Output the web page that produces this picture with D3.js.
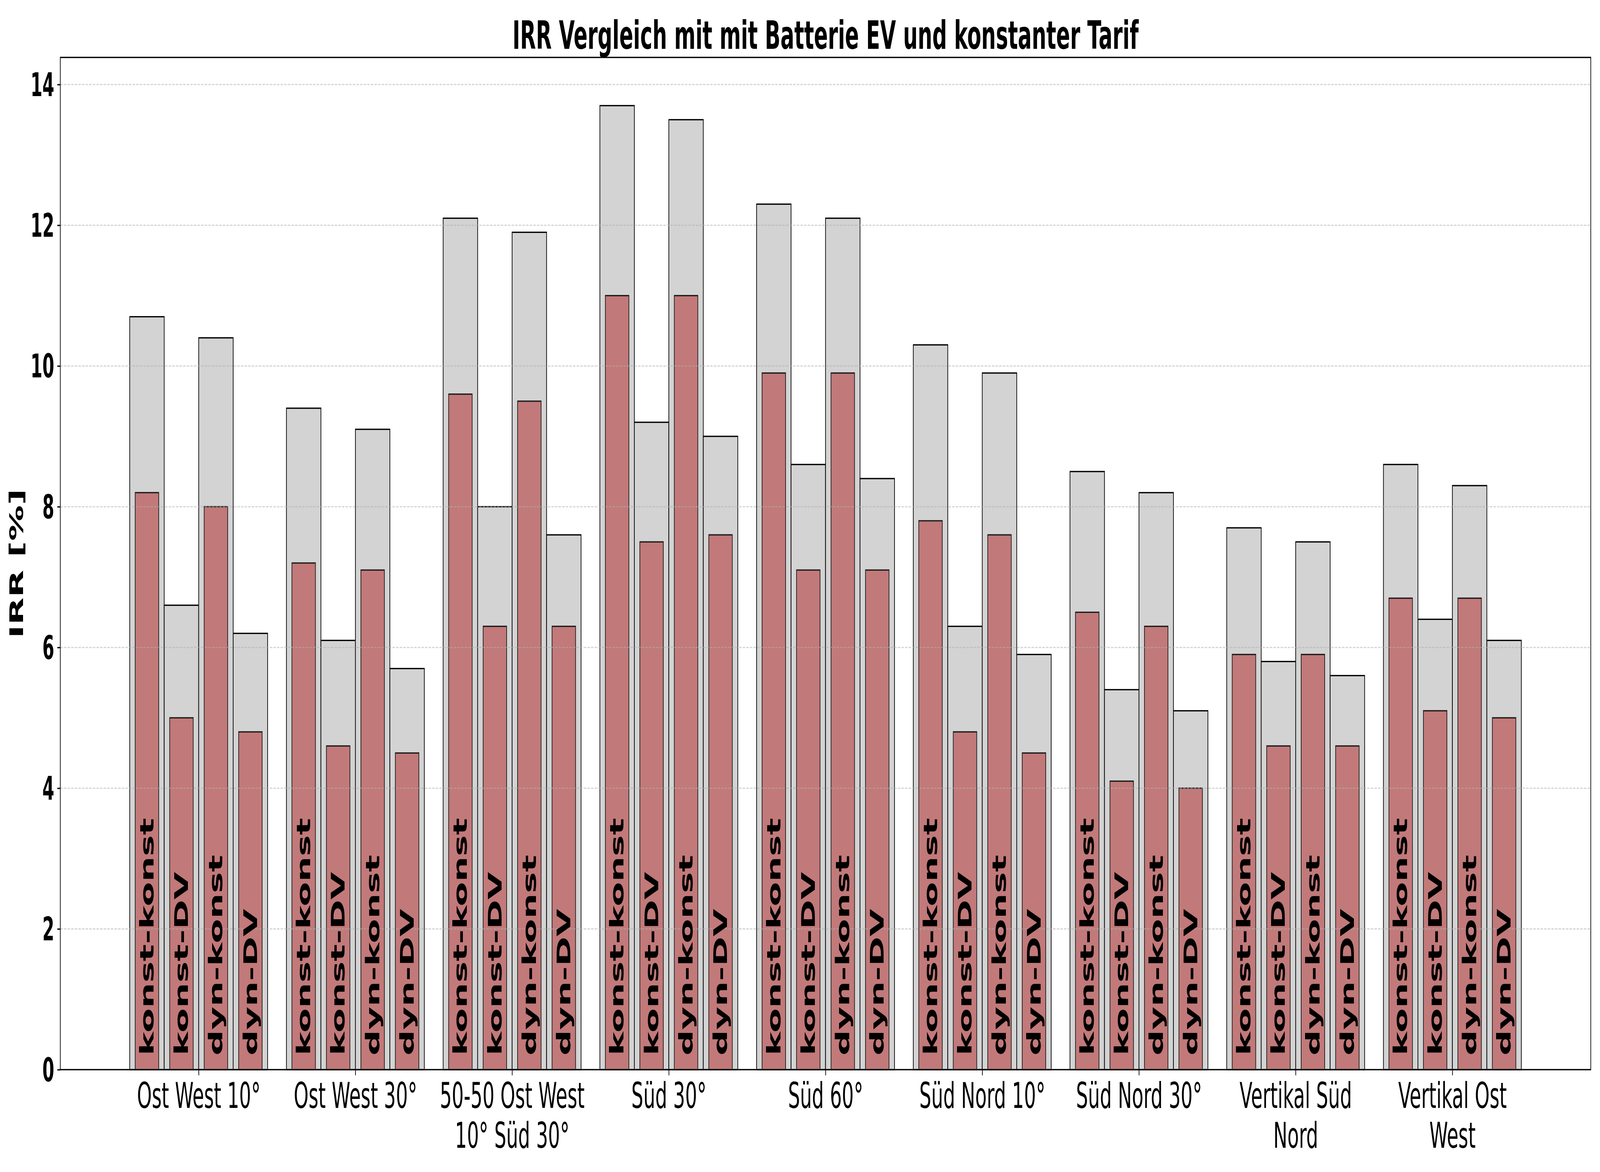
<!DOCTYPE html>
<html>
<head>
<meta charset="utf-8">
<script src="https://cdn.jsdelivr.net/npm/d3@7"></script>
<style>
html,body{margin:0;padding:0;background:#fff;overflow:hidden;}
#plot{width:100vw;height:100vh;}
text{font-family:"DejaVu Sans",sans-serif;}
</style>
</head>
<body>
<div id="plot"></div>
<script>
// categories on the x axis (\n = line break as in the original)
var categories = ["Ost West 10°","Ost West 30°","50-50 Ost West\n10° Süd 30°","Süd 30°","Süd 60°",
	"Süd Nord 10°","Süd Nord 30°","Vertikal Süd\nNord","Vertikal Ost\nWest"];
var scenarios = ["konst-konst","konst-DV","dyn-konst","dyn-DV"];

// wide grey bars, one row per category (konst-konst, konst-DV, dyn-konst, dyn-DV)
var greyVals = [
	[10.7,6.6,10.4,6.2],
	[9.4,6.1,9.1,5.7],
	[12.1,8.0,11.9,7.6],
	[13.7,9.2,13.5,9.0],
	[12.3,8.6,12.1,8.4],
	[10.3,6.3,9.9,5.9],
	[8.5,5.4,8.2,5.1],
	[7.7,5.8,7.5,5.6],
	[8.6,6.4,8.3,6.1]
];
// narrow red bars
var redVals = [
	[8.2,5.0,8.0,4.8],
	[7.2,4.6,7.1,4.5],
	[9.6,6.3,9.5,6.3],
	[11.0,7.5,11.0,7.6],
	[9.9,7.1,9.9,7.1],
	[7.8,4.8,7.6,4.5],
	[6.5,4.1,6.3,4.0],
	[5.9,4.6,5.9,4.6],
	[6.7,5.1,6.7,5.0]
];
var yTicks = [0,2,4,6,8,10,12,14];

// drawing is done in a 7800x3000 coordinate system, scaled to the window
var W = 7800, H = 3000,
	m = {t:147,r:45,b:262,l:294};

var svg = d3.select('#plot').append('svg')
	.attr('viewBox','0 0 '+W+' '+H)
	.attr('preserveAspectRatio','none')
	.attr('width','100%').attr('height','100%')
	.style('display','block');
svg.append('rect').attr('width',W).attr('height',H).attr('fill','#fff');

var x = d3.scaleLinear().domain([-0.883,8.883]).range([m.l,W-m.r]),
	y = d3.scaleLinear().domain([0,14.385]).range([H-m.b,m.t]);

var gw = 0.22, rw = 0.15;
function off(j){ return (j-1.5)*gw; }

// flatten for drawing
var bars = [];
categories.forEach(function(c,i){
	scenarios.forEach(function(s,j){
		bars.push({i:i,j:j,s:s,grey:greyVals[i][j],red:redVals[i][j]});
	});
});

var plot = svg.append('g');

plot.selectAll('.grey').data(bars).enter().append('rect')
	.attr('class','grey')
	.attr('x',function(d){ return x(d.i+off(d.j)-gw/2); })
	.attr('width',x(gw)-x(0))
	.attr('y',function(d){ return y(d.grey); })
	.attr('height',function(d){ return y(0)-y(d.grey); })
	.attr('fill','#d3d3d3').attr('stroke','#000').attr('stroke-width',3.3);

plot.selectAll('.red').data(bars).enter().append('rect')
	.attr('class','red')
	.attr('x',function(d){ return x(d.i+off(d.j)-rw/2); })
	.attr('width',x(rw)-x(0))
	.attr('y',function(d){ return y(d.red); })
	.attr('height',function(d){ return y(0)-y(d.red); })
	.attr('fill','#c27979').attr('stroke','#1a1a1a').attr('stroke-width',3.3);

// grid on top of the bars (matplotlib default)
plot.selectAll('.grid').data(yTicks).enter().append('line')
	.attr('x1',m.l).attr('x2',W-m.r)
	.attr('y1',function(d){ return y(d); }).attr('y2',function(d){ return y(d); })
	.attr('stroke','#b0b0b0').attr('stroke-opacity',0.5)
	.attr('stroke-width',3.3).attr('stroke-dasharray','12.3,5.3');

// scenario names inside the bars
plot.selectAll('.lbl').data(bars).enter().append('text')
	.attr('transform',function(d){ return 'translate('+x(d.i+off(d.j))+','+y(0.2)+') rotate(-90)'; })
	.attr('dy','0.346em')
	.attr('text-anchor','start')
	.style('font-size','91.7px').style('font-weight','bold')
	.text(function(d){ return d.s; });

// frame
svg.append('rect')
	.attr('x',m.l).attr('y',m.t)
	.attr('width',W-m.r-m.l).attr('height',H-m.b-m.t)
	.attr('fill','none').attr('stroke','#000').attr('stroke-width',3.3);

// y axis
var yAxis = svg.append('g')
	.attr('transform','translate('+m.l+',0)')
	.call(d3.axisLeft(y).tickValues(yTicks).tickSize(14.6).tickPadding(14.6).tickFormat(d3.format('d')));
yAxis.select('.domain').remove();
yAxis.selectAll('line').attr('stroke','#000').attr('stroke-width',3.3);
yAxis.selectAll('text')
	.attr('dy','0.35em')
	.style('font-family','"DejaVu Sans"').style('font-size','83.3px').style('font-weight','bold').attr('fill','#000');

// x axis
var xAxis = svg.append('g')
	.attr('transform','translate(0,'+(H-m.b)+')')
	.call(d3.axisBottom(x).tickValues(d3.range(categories.length)).tickSize(14.6).tickFormat(''));
xAxis.select('.domain').remove();
xAxis.selectAll('line').attr('stroke','#000').attr('stroke-width',3.3);
xAxis.selectAll('.tick').each(function(d){
	var t = d3.select(this).select('text')
		.attr('y',0).attr('dy',null)
		.style('font-family','"DejaVu Sans"').style('font-size','91.7px').attr('fill','#000');
	categories[d].split('\n').forEach(function(line,k){
		t.append('tspan').attr('x',0).attr('y',98+k*102).text(line);
	});
});

// titles
svg.append('text')
	.attr('x',(m.l+W-m.r)/2).attr('y',125)
	.attr('text-anchor','middle')
	.style('font-size','100px').style('font-weight','bold')
	.text('IRR Vergleich mit mit Batterie EV und konstanter Tarif');

svg.append('text')
	.attr('transform','translate(113,'+((m.t+H-m.b)/2)+') rotate(-90)')
	.attr('text-anchor','middle')
	.style('font-size','91.7px').style('font-weight','bold')
	.text('IRR [%]');
</script>
</body>
</html>
